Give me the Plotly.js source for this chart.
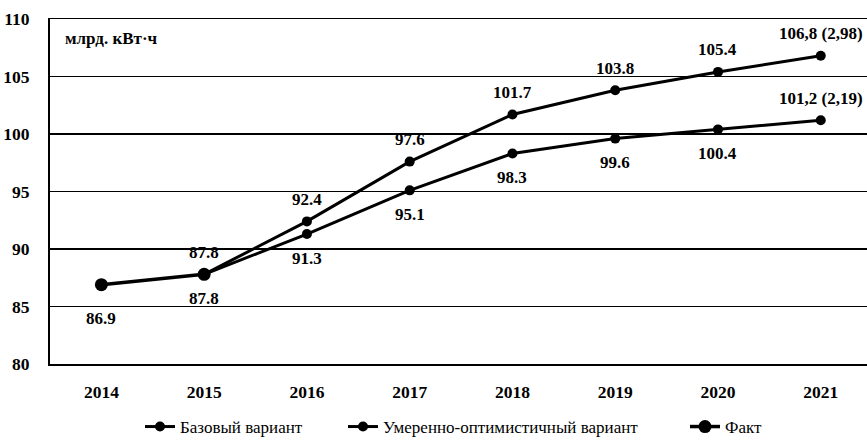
<!DOCTYPE html>
<html><head><meta charset="utf-8">
<script src="https://cdn.plot.ly/plotly-3.0.1.min.js"></script>
<style>body{margin:0;background:#fff}#chart{width:867px;height:445px}</style>
</head><body><div id="chart"></div>
<script>
const years = ['2014','2015','2016','2017','2018','2019','2020','2021'];
const baseYears = ['2015','2016','2017','2018','2019','2020','2021'];
const baseValues = [87.8, 91.3, 95.1, 98.3, 99.6, 100.4, 101.2];
const baseLabels = ['87.8','91.3','95.1','98.3','99.6','100.4','101,2 (2,19)'];
const baseLabelSide = [-1, -1, -1, -1, -1, -1, 1];
const optValues = [87.8, 92.4, 97.6, 101.7, 103.8, 105.4, 106.8];
const optLabels = ['87.8','92.4','97.6','101.7','103.8','105.4','106,8 (2,98)'];
const factYears = ['2014','2015'];
const factValues = [86.9, 87.8];
const factLabels = ['86.9', ''];

const serif = 'Liberation Serif';
const lblFont = {family: serif, size: 17, color: '#000', weight: 'bold'};

const traces = [
  {x: baseYears, y: baseValues, name: 'Базовый вариант', type: 'scatter', mode: 'lines+markers',
   legend: 'legend', line: {color: '#000', width: 3}, marker: {color: '#000', size: 10}, cliponaxis: false},
  {x: baseYears, y: optValues, name: 'Умеренно-оптимистичный вариант', type: 'scatter', mode: 'lines+markers',
   legend: 'legend2', line: {color: '#000', width: 3}, marker: {color: '#000', size: 10}, cliponaxis: false},
  {x: factYears, y: factValues, name: 'Факт', type: 'scatter', mode: 'lines+markers',
   legend: 'legend3', line: {color: '#000', width: 3.5}, marker: {color: '#000', size: 13}, cliponaxis: false}
];

const annotations = [];
function addLabels(xs, ys, texts, sides, below, above) {
  xs.forEach((x, i) => {
    if (!texts[i]) return;
    const s = sides[i];
    annotations.push({x: years.indexOf(x), y: ys[i], xref: 'x', yref: 'y', text: texts[i], showarrow: false,
      xanchor: 'center', yanchor: 'middle', yshift: s > 0 ? above : -below, font: lblFont});
  });
}
addLabels(baseYears, baseValues, baseLabels, baseLabelSide, 24, 22);
addLabels(baseYears, optValues, optLabels, optValues.map(() => 1), 24, 22);
addLabels(factYears, factValues, factLabels, [-1, -1], 34, 22);
annotations.push({text: 'млрд. кВт·ч', xref: 'paper', yref: 'paper', x: 0.016, y: 0.943,
  xanchor: 'left', yanchor: 'middle', showarrow: false,
  font: {family: serif, size: 17, color: '#000', weight: 'bold'}});

const legFont = {family: serif, size: 17, color: '#000'};
function leg(xpx) {
  return {orientation: 'h', x: (xpx - 50) / 817, xanchor: 'left', y: -0.183, yanchor: 'middle',
    font: legFont, bgcolor: 'rgba(0,0,0,0)'};
}

const layout = {
  width: 867, height: 445,
  margin: {l: 50, r: 0, t: 19, b: 76},
  paper_bgcolor: '#fff', plot_bgcolor: '#fff',
  showlegend: true,
  legend: leg(140), legend2: leg(343), legend3: leg(685),
  xaxis: {type: 'category', categoryarray: years, categoryorder: 'array', range: [-0.5, 7.45],
    showgrid: false, zeroline: false, showline: true, mirror: true, linecolor: '#000', linewidth: 1.5,
    ticks: '', ticklabelstandoff: 11,
    tickfont: {family: serif, size: 17.5, color: '#000', weight: 'bold'}},
  yaxis: {range: [80, 110], dtick: 5, tick0: 80, showgrid: true, gridcolor: '#000', gridwidth: 1.5,
    zeroline: false, showline: true, linecolor: '#000', linewidth: 2, ticks: '',
    ticklabelstandoff: 15,
    tickfont: {family: serif, size: 17.5, color: '#000', weight: 'bold'}},
  annotations: annotations
};
Plotly.newPlot('chart', traces, layout, {displayModeBar: false, staticPlot: true});
</script></body></html>
